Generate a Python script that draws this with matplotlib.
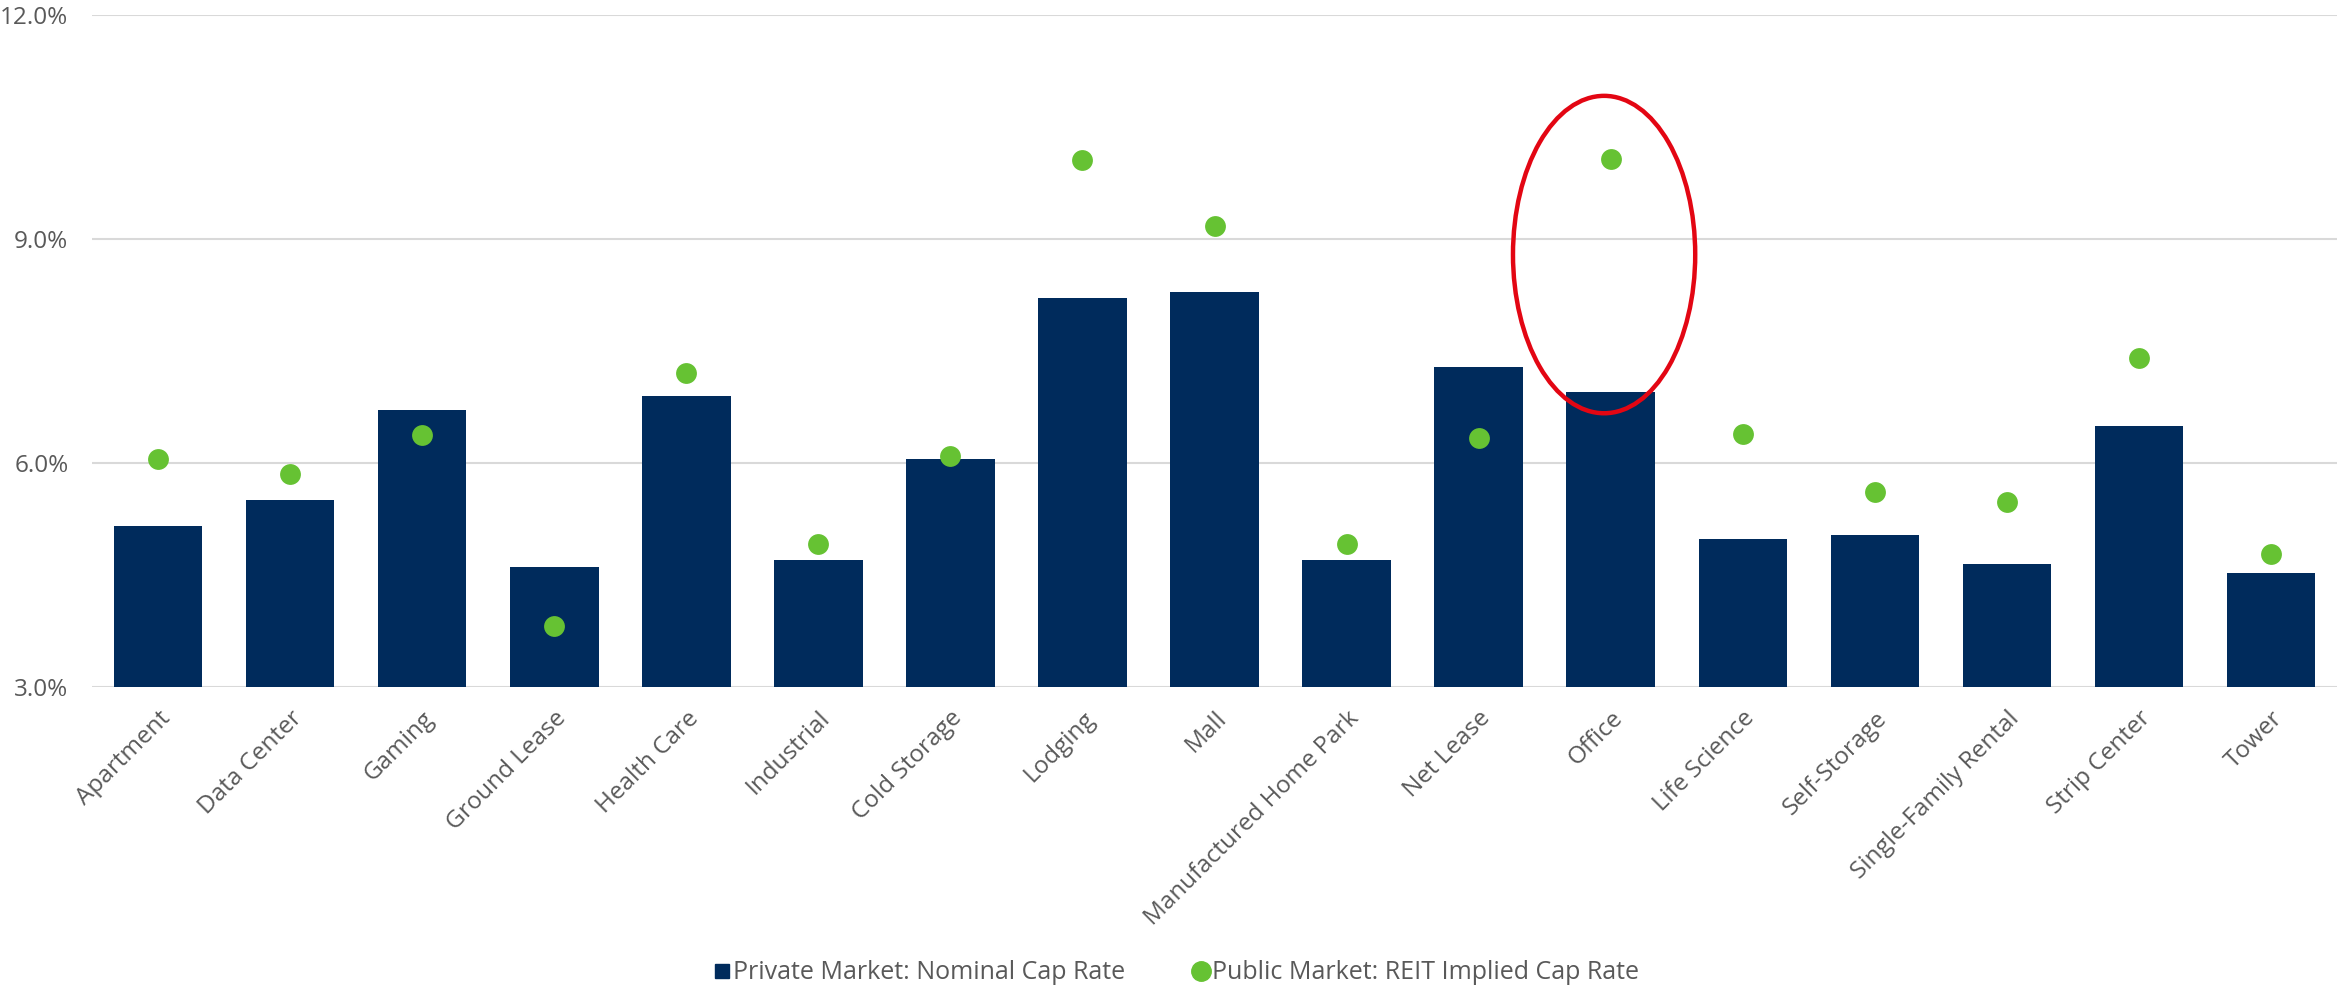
import matplotlib.pyplot as plt
from matplotlib.lines import Line2D
from matplotlib.patches import Ellipse
from matplotlib.ticker import FuncFormatter
import numpy as np

plt.rcParams['font.family'] = ['Open Sans', 'DejaVu Sans']

sectors = ['Apartment', 'Data Center', 'Gaming', 'Ground Lease', 'Health Care',
           'Industrial', 'Cold Storage', 'Lodging', 'Mall', 'Manufactured Home Park',
           'Net Lease', 'Office', 'Life Science', 'Self-Storage',
           'Single-Family Rental', 'Strip Center', 'Tower']
private_cap = [5.16, 5.50, 6.71, 4.60, 6.89, 4.70, 6.05, 8.21, 8.29, 4.70,
               7.29, 6.95, 4.98, 5.04, 4.64, 6.49, 4.52]
public_cap = [6.05, 5.85, 6.37, 3.82, 7.21, 4.92, 6.09, 10.05, 9.17, 4.92,
              6.33, 10.07, 6.39, 5.61, 5.47, 7.41, 4.78]

navy = '#002B5C'
green = '#66C233'
grey_txt = '#595959'

fig = plt.figure(figsize=(23.37, 9.88), dpi=100)
ax = fig.add_axes([0.0394, 0.3047, 0.9606, 0.6803])

x = np.arange(len(sectors))
ax.bar(x, [v - 3 for v in private_cap], bottom=3, width=0.67, color=navy, zorder=2)
ax.scatter(x, public_cap, s=225, color=green, zorder=3, linewidths=0)

# highlight around Office
ax.add_patch(Ellipse((10.95, 8.79), 1.38, 4.25, fill=False, edgecolor='#E30613',
                     linewidth=3.2, zorder=4))

ax.set_xlim(-0.5, len(sectors) - 0.5)
ax.set_ylim(3, 12)
ax.set_yticks([3, 6, 9, 12])
ax.yaxis.set_major_formatter(FuncFormatter(lambda v, p: f'{v:.1f}%'))
ax.grid(axis='y', color='#D9D9D9', linewidth=1.5, zorder=0)
ax.set_axisbelow(True)
for s in ax.spines.values():
    s.set_visible(False)
ax.tick_params(axis='both', length=0, labelsize=17.5, labelcolor=grey_txt)
ax.tick_params(axis='y', pad=17)
ax.set_xticks(x)
ax.set_xticklabels(sectors, rotation=45, ha='right', va='top', rotation_mode='anchor')
ax.tick_params(axis='x', pad=14)

handles = [Line2D([], [], marker='s', linestyle='none', color=navy, markersize=10),
           Line2D([], [], marker='o', linestyle='none', color=green, markersize=14)]
fig.legend(handles, ['Private Market: Nominal Cap Rate', 'Public Market: REIT Implied Cap Rate'],
           loc='lower center', bbox_to_anchor=(0.503, -0.02), ncol=2, frameon=False,
           fontsize=18, labelcolor=grey_txt, handletextpad=0.05, columnspacing=2.6,
           handlelength=0.8)

fig.savefig('out.png', dpi=100)
